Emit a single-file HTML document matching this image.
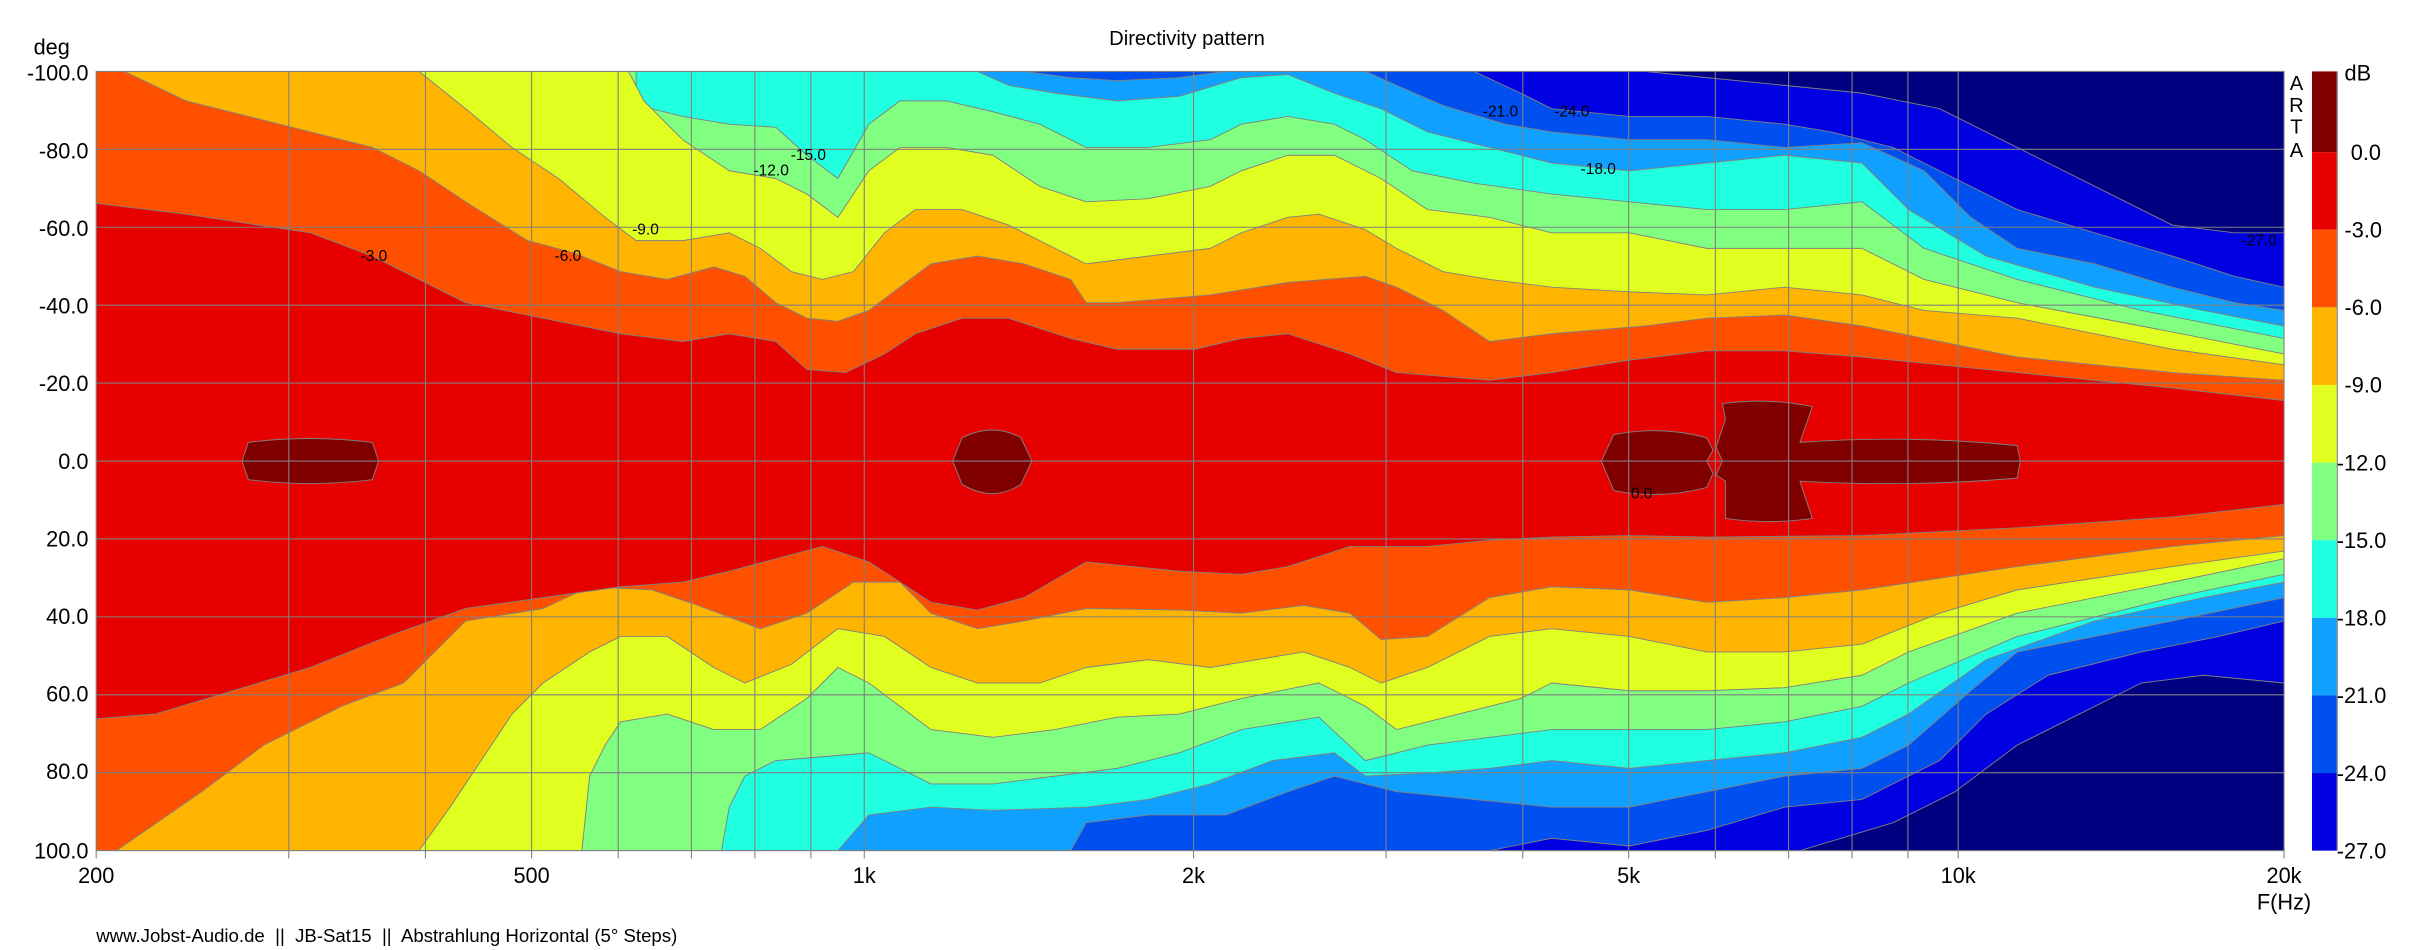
<!DOCTYPE html>
<html><head><meta charset="utf-8"><style>
html,body{margin:0;padding:0;background:#fff;}
svg{display:block;font-family:"Liberation Sans",Arial,sans-serif;}
</style></head><body>
<svg width="2433" height="950" viewBox="0 0 1568 612" preserveAspectRatio="none" xmlns="http://www.w3.org/2000/svg">
<defs><clipPath id="c"><rect x="62" y="46" width="1410" height="502"/></clipPath></defs>
<rect x="62" y="46" width="1410" height="502" fill="#000080"/>
<g clip-path="url(#c)" stroke="#808080" stroke-width="0.6" stroke-linejoin="round">
<polygon fill="#0000e0" points="62,46 1060,46 1100,50 1150,55 1200,60 1250,70 1280,85 1320,105 1360,125 1400,145 1440,150 1472,150 1472,440 1420,435 1380,440 1340,460 1300,480 1260,510 1220,530 1160,548 62,548"/>
<polygon fill="#0050f0" points="62,46 950,46 980,60 1000,70 1050,75 1100,75 1150,80 1180,85 1220,95 1260,115 1300,135 1350,150 1400,165 1440,178 1472,185 1472,400 1430,410 1380,420 1320,435 1280,460 1250,490 1200,515 1150,520 1100,535 1050,545 1000,540 960,548 62,548"/>
<polygon fill="#10a0ff" points="62,46 660,46 690,50 720,52 760,50 790,46 880,46 900,55 930,68 970,80 1000,85 1050,90 1100,90 1150,95 1200,92 1240,110 1270,140 1300,160 1350,170 1400,185 1440,195 1472,200 1472,385 1400,400 1350,410 1300,420 1270,445 1230,480 1200,495 1150,500 1100,510 1050,520 1000,520 950,515 900,510 860,500 830,510 790,525 740,525 700,530 690,548 62,548"/>
<polygon fill="#20ffe0" points="62,46 630,46 650,55 680,60 720,65 760,62 800,50 830,48 860,60 890,70 920,85 960,95 1000,105 1050,110 1100,105 1150,100 1200,105 1230,135 1280,165 1350,185 1420,200 1472,210 1472,375 1420,385 1350,400 1280,425 1230,460 1200,475 1150,485 1100,490 1050,495 1000,490 960,495 920,498 880,500 860,485 820,490 780,505 740,515 700,520 640,522 600,520 560,525 540,548 62,548"/>
<polygon fill="#80ff80" points="62,46 410,46 410,60 420,70 440,75 470,80 500,82 520,100 540,115 560,80 580,65 610,65 640,72 670,80 700,95 740,95 780,90 800,80 830,75 860,80 880,90 910,110 950,118 1000,125 1050,130 1100,135 1150,135 1200,130 1240,160 1300,180 1380,200 1472,218 1472,370 1400,385 1300,410 1230,440 1200,455 1150,465 1100,470 1050,470 1000,470 920,480 880,490 850,462 800,470 760,485 720,495 680,500 640,505 600,505 560,485 500,490 480,500 470,520 465,548 62,548"/>
<polygon fill="#e0ff20" points="62,46 405,46 415,65 440,90 470,110 500,115 520,125 540,140 560,110 580,95 610,95 640,100 670,120 700,130 740,128 780,120 800,110 830,100 860,100 890,115 920,135 960,140 1000,150 1050,150 1100,160 1150,160 1200,160 1240,180 1300,195 1380,210 1472,228 1472,360 1400,375 1300,395 1230,420 1200,435 1150,443 1100,445 1050,445 1000,440 980,450 940,460 900,470 880,455 850,440 800,450 760,460 720,462 680,470 640,475 600,470 560,440 540,430 520,450 490,470 460,470 430,460 400,465 390,480 380,500 375,548 62,548"/>
<polygon fill="#ffb400" points="62,46 270,46 300,70 330,95 360,115 390,140 410,155 440,155 470,150 490,160 510,175 530,180 550,175 570,150 590,135 620,135 650,145 680,160 700,170 740,165 780,160 800,150 830,140 850,138 880,148 900,160 930,175 960,180 1000,185 1050,188 1100,190 1150,185 1200,190 1240,200 1300,205 1400,225 1472,235 1472,355 1400,365 1300,380 1250,395 1200,415 1150,420 1100,420 1050,410 1000,405 960,410 920,430 890,440 870,430 840,420 810,425 780,430 740,425 700,430 670,440 630,440 600,430 570,410 540,405 510,428 480,440 460,430 430,410 400,410 380,420 350,440 330,460 310,490 290,520 270,548 62,548"/>
<polygon fill="#ff5000" points="62,46 80,46 120,65 180,80 240,95 270,110 300,130 340,155 370,163 400,175 430,180 460,172 480,178 500,195 520,205 540,207 560,200 580,185 600,170 630,165 660,170 690,180 700,195 720,195 780,190 830,182 880,178 900,185 930,200 960,220 1000,215 1060,210 1100,205 1150,203 1200,210 1260,222 1300,230 1350,235 1400,240 1472,245 1472,345 1400,352 1300,365 1200,380 1150,385 1100,388 1050,380 1000,378 960,385 920,410 890,412 870,395 840,390 800,395 760,393 700,392 660,400 630,405 600,395 580,375 550,375 520,395 490,405 450,390 420,380 380,378 350,392 300,400 280,420 260,440 220,455 170,480 130,510 75,548 62,548"/>
<polygon fill="#e60000" points="62,131 120,138 200,150 240,165 270,180 300,195 350,205 400,215 440,220 470,215 500,220 520,238 545,240 570,228 590,215 620,205 650,205 690,218 720,225 770,225 800,218 830,215 870,228 900,240 960,245 1000,240 1050,232 1100,226 1150,226 1200,230 1300,240 1400,250 1472,258 1472,325 1400,333 1300,340 1200,345 1100,346 1050,345 1000,346 960,348 920,352 870,352 830,365 800,370 760,368 700,362 660,385 630,393 600,388 560,362 530,352 500,360 470,368 440,375 400,378 350,385 300,392 250,410 200,430 100,460 62,463"/>
<path fill="#800000" d="M160,285 Q200,280 240,285 L244,297 L240,309 Q200,314 160,309 L156,297 Z"/>
<path fill="#800000" d="M620,282 Q640,272 658,282 L665,297 L658,312 Q640,324 620,312 L614,297 Z"/>
<path fill="#800000" d="M1040,280 Q1070,274 1100,282 L1104,290 L1100,297 L1104,305 L1100,314 Q1070,322 1040,316 L1032,297 Z"/>
<path fill="#800000" d="M1106,288 L1112,270 L1110,260 Q1140,256 1168,262 L1160,285 Q1230,280 1300,287 L1302,297 L1300,308 Q1230,314 1160,310 L1168,334 Q1140,338 1112,334 L1112,310 L1106,306 L1110,297 Z"/>
</g>
<g stroke="#808080" stroke-width="0.7" fill="none">
<rect x="62" y="46" width="1410" height="502"/>
<path d="M62,96.2H1472M62,146.4H1472M62,196.6H1472M62,246.8H1472M62,297H1472M62,347.2H1472M62,397.4H1472M62,447.6H1472M62,497.8H1472"/>
<path d="M186.1,46V553M274.2,46V553M342.6,46V553M398.4,46V553M445.6,46V553M486.5,46V553M522.6,46V553M557,46V553M769.2,46V553M893.3,46V553M981.4,46V553M1049.6,46V553M1105.5,46V553M1152.7,46V553M1193.6,46V553M1229.6,46V553M1262,46V553M62,548V553M1472,548V553"/>
</g>
<g font-size="14" fill="#000" text-anchor="end">
<text x="57" y="52">-100.0</text><text x="57" y="102">-80.0</text><text x="57" y="152">-60.0</text><text x="57" y="202">-40.0</text><text x="57" y="252">-20.0</text><text x="57" y="302">0.0</text><text x="57" y="352">20.0</text><text x="57" y="402">40.0</text><text x="57" y="452">60.0</text><text x="57" y="502">80.0</text><text x="57" y="553">100.0</text>
</g>
<text x="45" y="35" font-size="14" text-anchor="end">deg</text>
<g font-size="14" text-anchor="middle">
<text x="62" y="569">200</text><text x="342.6" y="569">500</text><text x="557" y="569">1k</text><text x="769.2" y="569">2k</text><text x="1049.6" y="569">5k</text><text x="1262" y="569">10k</text><text x="1472" y="569">20k</text>
</g>
<text x="1472" y="586" font-size="14" text-anchor="middle">F(Hz)</text>
<text x="765" y="29" font-size="13" text-anchor="middle">Directivity pattern</text>
<text x="62" y="607" font-size="12" style="white-space:pre" xml:space="preserve">www.Jobst-Audio.de  ||  JB-Sat15  ||  Abstrahlung Horizontal (5° Steps)</text>
<g font-size="13" text-anchor="middle"><text x="1480" y="58">A</text><text x="1480" y="72">R</text><text x="1480" y="86">T</text><text x="1480" y="101">A</text></g>
<rect x="1490" y="46" width="16" height="52" fill="#800000"/>
<rect x="1490" y="98" width="16" height="50" fill="#e60000"/>
<rect x="1490" y="148" width="16" height="50" fill="#ff5000"/>
<rect x="1490" y="198" width="16" height="50" fill="#ffb400"/>
<rect x="1490" y="248" width="16" height="50" fill="#e0ff20"/>
<rect x="1490" y="298" width="16" height="50" fill="#80ff80"/>
<rect x="1490" y="348" width="16" height="50" fill="#20ffe0"/>
<rect x="1490" y="398" width="16" height="50" fill="#10a0ff"/>
<rect x="1490" y="448" width="16" height="50" fill="#0050f0"/>
<rect x="1490" y="498" width="16" height="50" fill="#0000e0"/>
<line x1="1506.3" y1="46" x2="1506.3" y2="548" stroke="#808080" stroke-width="0.7"/>
<g font-size="14"><text x="1511" y="52">dB</text><text x="1515" y="103">0.0</text><text x="1511" y="153">-3.0</text><text x="1511" y="203">-6.0</text><text x="1511" y="253">-9.0</text><text x="1506" y="303">-12.0</text><text x="1506" y="353">-15.0</text><text x="1506" y="403">-18.0</text><text x="1506" y="453">-21.0</text><text x="1506" y="503">-24.0</text><text x="1506" y="553">-27.0</text></g>
<g font-size="10" text-anchor="middle" fill="#000">
<text x="241" y="168">-3.0</text><text x="366" y="168">-6.0</text><text x="416" y="151">-9.0</text><text x="497" y="113">-12.0</text><text x="521" y="103">-15.0</text><text x="967" y="75">-21.0</text><text x="1013" y="75">-24.0</text><text x="1030" y="112">-18.0</text><text x="1058" y="321">0.0</text><text x="1456" y="158">-27.0</text>
</g>
</svg>
</body></html>
